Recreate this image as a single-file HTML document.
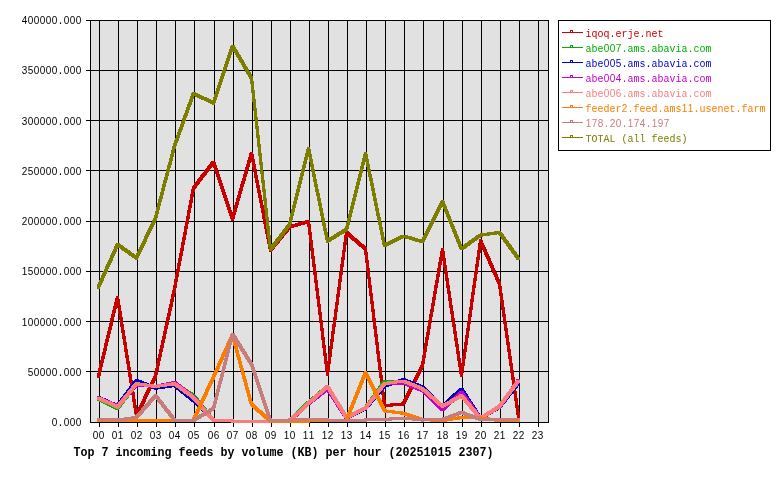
<!DOCTYPE html>
<html lang="en">
<head>
<meta charset="utf-8">
<title>Top 7 incoming feeds by volume (KB) per hour</title>
<style>
html,body{margin:0;padding:0;background:#fff;}
body{width:780px;height:480px;overflow:hidden;font-family:"Liberation Mono",monospace;}
svg{display:block;will-change:transform;}
text{white-space:pre;}
</style>
</head>
<body>
<svg width="780" height="480" viewBox="0 0 780 480">
<rect width="780" height="480" fill="#fff"/>
<rect x="90" y="20" width="459" height="403" fill="#e1e1e1" shape-rendering="crispEdges"/>
<path fill="#000" shape-rendering="crispEdges" d="M90 422h459v1h-459zM86 371h463v1h-463zM86 321h463v1h-463zM86 271h463v1h-463zM86 221h463v1h-463zM86 170h463v1h-463zM86 120h463v1h-463zM86 70h463v1h-463zM86 20h463v1h-463zM99 20h1v407h-1zM118 20h1v407h-1zM137 20h1v407h-1zM156 20h1v407h-1zM175 20h1v407h-1zM194 20h1v407h-1zM214 20h1v407h-1zM233 20h1v407h-1zM252 20h1v407h-1zM271 20h1v407h-1zM290 20h1v407h-1zM309 20h1v407h-1zM328 20h1v407h-1zM347 20h1v407h-1zM366 20h1v407h-1zM385 20h1v407h-1zM404 20h1v407h-1zM423 20h1v407h-1zM443 20h1v407h-1zM462 20h1v407h-1zM481 20h1v407h-1zM500 20h1v407h-1zM519 20h1v407h-1zM538 20h1v407h-1zM90 20h1v403h-1zM548 20h1v403h-1z"/>
<g shape-rendering="crispEdges">
<path fill="#c80000" d="M97 374.7 116 295.5 119 295.5 119 298.5 100 377.7 97 377.7zM116 295.5 119 295.5 138 414.3 138 417.3 135 417.3 116 298.5zM135 414.3 154 374.5 157 374.5 157 377.5 138 417.3 135 417.3zM154 374.5 173 287.5 176 287.5 176 290.5 157 377.5 154 377.5zM173 287.5 192 186.5 195 186.5 195 189.5 176 290.5 173 290.5zM192 186.5 212 160.5 215 160.5 215 163.5 195 189.5 192 189.5zM212 160.5 215 160.5 234 217.5 234 220.5 231 220.5 212 163.5zM231 217.5 250 151.5 253 151.5 253 154.5 234 220.5 231 220.5zM250 151.5 253 151.5 272 248.8 272 251.8 269 251.8 250 154.5zM269 248.8 288 225.5 291 225.5 291 228.5 272 251.8 269 251.8zM288 225.5 307 220 310 220 310 223 291 228.5 288 228.5zM307 220 310 220 329 372.5 329 375.5 326 375.5 307 223zM326 372.5 345 231 348 231 348 234 329 375.5 326 375.5zM345 231 348 231 367 247.5 367 250.5 364 250.5 345 234zM364 247.5 367 247.5 386 404.1 386 407.1 383 407.1 364 250.5zM383 404.1 402 402.4 405 402.4 405 405.4 386 407.1 383 407.1zM402 402.4 421 363.5 424 363.5 424 366.5 405 405.4 402 405.4zM421 363.5 441 248 444 248 444 251 424 366.5 421 366.5zM441 248 444 248 463 374 463 377 460 377 441 251zM460 374 479 239.2 482 239.2 482 242.2 463 377 460 377zM479 239.2 482 239.2 501 282.25 501 285.25 498 285.25 479 242.2zM498 282.25 501 282.25 520 415 520 418 517 418 498 285.25z"/>
<path fill="#00af00" d="M97 397.7 100 397.7 119 406.8 119 409.8 116 409.8 97 400.7zM116 406.8 135 382.5 138 382.5 138 385.5 119 409.8 116 409.8zM135 382.5 138 382.5 157 385 157 388 154 388 135 385.5zM154 385 173 382.2 176 382.2 176 385.2 157 388 154 388zM173 382.2 176 382.2 195 394 195 397 192 397 173 385.2zM192 394 195 394 215 419 215 422 212 422 192 397zM212 419 215 419 234 419.5 234 422.5 231 422.5 212 422zM231 419.5 253 419.5 253 422.5 231 422.5zM250 419.5 272 419.5 272 422.5 250 422.5zM269 419.5 291 419.5 291 422.5 269 422.5zM288 419.5 307 401 310 401 310 404 291 422.5 288 422.5zM307 401 326 385 329 385 329 388 310 404 307 404zM326 385 329 385 348 416.5 348 419.5 345 419.5 326 388zM345 416.5 364 406.5 367 406.5 367 409.5 348 419.5 345 419.5zM364 406.5 383 380 386 380 386 383 367 409.5 364 409.5zM383 380 402 379.7 405 379.7 405 382.7 386 383 383 383zM402 379.7 405 379.7 424 387.5 424 390.5 421 390.5 402 382.7zM421 387.5 424 387.5 444 405 444 408 441 408 421 390.5zM441 405 460 394.2 463 394.2 463 397.2 444 408 441 408zM460 394.2 463 394.2 482 417 482 420 479 420 460 397.2zM479 417 498 405.5 501 405.5 501 408.5 482 420 479 420zM498 405.5 517 381 520 381 520 384 501 408.5 498 408.5z"/>
<path fill="#0000c8" d="M97 396 100 396 119 404.5 119 407.5 116 407.5 97 399zM116 404.5 135 379 138 379 138 382 119 407.5 116 407.5zM135 379 138 379 157 386.7 157 389.7 154 389.7 135 382zM154 386.7 173 383.9 176 383.9 176 386.9 157 389.7 154 389.7zM173 383.9 176 383.9 195 399 195 402 192 402 173 386.9zM192 399 195 399 215 419 215 422 212 422 192 402zM212 419 215 419 234 419.5 234 422.5 231 422.5 212 422zM231 419.5 253 419.5 253 422.5 231 422.5zM250 419.5 272 419.5 272 422.5 250 422.5zM269 419.5 291 419.5 291 422.5 269 422.5zM288 419.5 307 401.7 310 401.7 310 404.7 291 422.5 288 422.5zM307 401.7 326 385.5 329 385.5 329 388.5 310 404.7 307 404.7zM326 385.5 329 385.5 348 416.5 348 419.5 345 419.5 326 388.5zM345 416.5 364 407 367 407 367 410 348 419.5 345 419.5zM364 407 383 384.5 386 384.5 386 387.5 367 410 364 410zM383 384.5 402 378.2 405 378.2 405 381.2 386 387.5 383 387.5zM402 378.2 405 378.2 424 385.5 424 388.5 421 388.5 402 381.2zM421 385.5 424 385.5 444 405 444 408 441 408 421 388.5zM441 405 460 387.5 463 387.5 463 390.5 444 408 441 408zM460 387.5 463 387.5 482 417 482 420 479 420 460 390.5zM479 417 498 405.5 501 405.5 501 408.5 482 420 479 420zM498 405.5 517 381.5 520 381.5 520 384.5 501 408.5 498 408.5z"/>
<path fill="#c800c8" d="M97 396.3 100 396.3 119 404.5 119 407.5 116 407.5 97 399.3zM116 404.5 135 383.5 138 383.5 138 386.5 119 407.5 116 407.5zM135 383.5 138 383.5 157 385 157 388 154 388 135 386.5zM154 385 173 381 176 381 176 384 157 388 154 388zM173 381 176 381 195 395.5 195 398.5 192 398.5 173 384zM192 395.5 195 395.5 215 419 215 422 212 422 192 398.5zM212 419 215 419 234 419.5 234 422.5 231 422.5 212 422zM231 419.5 253 419.5 253 422.5 231 422.5zM250 419.5 272 419.5 272 422.5 250 422.5zM269 419.5 291 419.5 291 422.5 269 422.5zM288 419.5 307 402 310 402 310 405 291 422.5 288 422.5zM307 402 326 387.5 329 387.5 329 390.5 310 405 307 405zM326 387.5 329 387.5 348 416.5 348 419.5 345 419.5 326 390.5zM345 416.5 364 406.5 367 406.5 367 409.5 348 419.5 345 419.5zM364 406.5 383 382 386 382 386 385 367 409.5 364 409.5zM383 382 402 381.5 405 381.5 405 384.5 386 385 383 385zM402 381.5 405 381.5 424 389 424 392 421 392 402 384.5zM421 389 424 389 444 408 444 411 441 411 421 392zM441 408 460 390.7 463 390.7 463 393.7 444 411 441 411zM460 390.7 463 390.7 482 417 482 420 479 420 460 393.7zM479 417 498 405.3 501 405.3 501 408.3 482 420 479 420zM498 405.3 517 378.8 520 378.8 520 381.8 501 408.3 498 408.3z"/>
<path fill="#fa7d7d" d="M97 396.5 100 396.5 119 405.5 119 408.5 116 408.5 97 399.5zM116 405.5 135 382.2 138 382.2 138 385.2 119 408.5 116 408.5zM135 382.2 138 382.2 157 385 157 388 154 388 135 385.2zM154 385 173 382.2 176 382.2 176 385.2 157 388 154 388zM173 382.2 176 382.2 195 396 195 399 192 399 173 385.2zM192 396 195 396 215 419 215 422 212 422 192 399zM212 419 215 419 234 419.5 234 422.5 231 422.5 212 422zM231 419.5 253 419.5 253 422.5 231 422.5zM250 419.5 272 419.5 272 422.5 250 422.5zM269 419.5 291 419.5 291 422.5 269 422.5zM288 419.5 307 401.7 310 401.7 310 404.7 291 422.5 288 422.5zM307 401.7 326 385 329 385 329 388 310 404.7 307 404.7zM326 385 329 385 348 416 348 419 345 419 326 388zM345 416 364 406.5 367 406.5 367 409.5 348 419 345 419zM364 406.5 383 382 386 382 386 385 367 409.5 364 409.5zM383 382 402 379.5 405 379.5 405 382.5 386 385 383 385zM402 379.5 405 379.5 424 387.2 424 390.2 421 390.2 402 382.5zM421 387.2 424 387.2 444 404.7 444 407.7 441 407.7 421 390.2zM441 404.7 460 394.2 463 394.2 463 397.2 444 407.7 441 407.7zM460 394.2 463 394.2 482 417 482 420 479 420 460 397.2zM479 417 498 404.7 501 404.7 501 407.7 482 420 479 420zM498 404.7 517 379.5 520 379.5 520 382.5 501 407.7 498 407.7z"/>
<path fill="#fa7d00" d="M97 419 119 419 119 422 97 422zM116 419 138 419 138 422 116 422zM135 419 154 418.5 157 418.5 157 421.5 138 422 135 422zM154 418.5 157 418.5 176 419 176 422 173 422 154 421.5zM173 419 192 418.5 195 418.5 195 421.5 176 422 173 422zM192 418.5 212 375.5 215 375.5 215 378.5 195 421.5 192 421.5zM212 375.5 231 333.5 234 333.5 234 336.5 215 378.5 212 378.5zM231 333.5 234 333.5 253 403 253 406 250 406 231 336.5zM250 403 253 403 272 419.5 272 422.5 269 422.5 250 406zM269 419.5 291 419.5 291 422.5 269 422.5zM288 419.5 310 419.5 310 422.5 288 422.5zM307 419.5 326 419 329 419 329 422 310 422.5 307 422.5zM326 419 345 418.5 348 418.5 348 421.5 329 422 326 422zM345 418.5 364 371.2 367 371.2 367 374.2 348 421.5 345 421.5zM364 371.2 367 371.2 386 409.4 386 412.4 383 412.4 364 374.2zM383 409.4 386 409.4 405 411.7 405 414.7 402 414.7 383 412.4zM402 411.7 405 411.7 424 418.1 424 421.1 421 421.1 402 414.7zM421 418.1 424 418.1 444 419 444 422 441 422 421 421.1zM441 419 460 416 463 416 463 419 444 422 441 422zM460 416 463 416 482 416.5 482 419.5 479 419.5 460 419zM479 416.5 482 416.5 501 419 501 422 498 422 479 419.5zM498 419 520 419 520 422 498 422z"/>
<path fill="#c87d7d" d="M97 418 100 418 119 418.5 119 421.5 116 421.5 97 421zM116 418.5 135 416 138 416 138 419 119 421.5 116 421.5zM135 416 154 394 157 394 157 397 138 419 135 419zM154 394 157 394 176 418.5 176 421.5 173 421.5 154 397zM173 418.5 176 418.5 195 419 195 422 192 422 173 421.5zM192 419 212 407 215 407 215 410 195 422 192 422zM212 407 231 332.5 234 332.5 234 335.5 215 410 212 410zM231 332.5 234 332.5 253 362.9 253 365.9 250 365.9 231 335.5zM250 362.9 253 362.9 272 419 272 422 269 422 250 365.9zM269 419 288 418.5 291 418.5 291 421.5 272 422 269 422zM288 418.5 307 418 310 418 310 421 291 421.5 288 421.5zM307 418 310 418 329 418.5 329 421.5 326 421.5 307 421zM326 418.5 329 418.5 348 419 348 422 345 422 326 421.5zM345 419 364 418.5 367 418.5 367 421.5 348 422 345 422zM364 418.5 383 418 386 418 386 421 367 421.5 364 421.5zM383 418 402 416.5 405 416.5 405 419.5 386 421 383 421zM402 416.5 405 416.5 424 418.5 424 421.5 421 421.5 402 419.5zM421 418.5 441 418 444 418 444 421 424 421.5 421 421.5zM441 418 460 410.9 463 410.9 463 413.9 444 421 441 421zM460 410.9 463 410.9 482 418 482 421 479 421 460 413.9zM479 418 482 418 501 418.5 501 421.5 498 421.5 479 421zM498 418.5 517 417.9 520 417.9 520 420.9 501 421.5 498 421.5z"/>
<path fill="#7d7d00" d="M97 285.5 116 243 119 243 119 246 100 288.5 97 288.5zM116 243 119 243 138 256.5 138 259.5 135 259.5 116 246zM135 256.5 154 216.5 157 216.5 157 219.5 138 259.5 135 259.5zM154 216.5 173 144.5 176 144.5 176 147.5 157 219.5 154 219.5zM173 144.5 192 92 195 92 195 95 176 147.5 173 147.5zM192 92 195 92 215 101.5 215 104.5 212 104.5 192 95zM212 101.5 231 44.5 234 44.5 234 47.5 215 104.5 212 104.5zM231 44.5 234 44.5 253 76.5 253 79.5 250 79.5 231 47.5zM250 76.5 253 76.5 272 248 272 251 269 251 250 79.5zM269 248 288 223.1 291 223.1 291 226.1 272 251 269 251zM288 223.1 307 147 310 147 310 150 291 226.1 288 226.1zM307 147 310 147 329 239.7 329 242.7 326 242.7 307 150zM326 239.7 345 227.7 348 227.7 348 230.7 329 242.7 326 242.7zM345 227.7 364 151.7 367 151.7 367 154.7 348 230.7 345 230.7zM364 151.7 367 151.7 386 244.1 386 247.1 383 247.1 364 154.7zM383 244.1 402 234.5 405 234.5 405 237.5 386 247.1 383 247.1zM402 234.5 405 234.5 424 240.2 424 243.2 421 243.2 402 237.5zM421 240.2 441 200.2 444 200.2 444 203.2 424 243.2 421 243.2zM441 200.2 444 200.2 463 247.3 463 250.3 460 250.3 441 203.2zM460 247.3 479 233.7 482 233.7 482 236.7 463 250.3 460 250.3zM479 233.7 498 231 501 231 501 234 482 236.7 479 236.7zM498 231 501 231 520 257.25 520 260.25 517 260.25 498 234z"/>
</g>
<g opacity="0.999" font-family="'Liberation Mono', monospace" font-size="10px" fill="#000">
<text text-anchor="middle" x="54.5 60.5 66.5 72.5 78.5" transform="translate(0 426) scale(1 1.16)"><tspan font-family="'Liberation Sans', sans-serif">0</tspan>.<tspan font-family="'Liberation Sans', sans-serif">000</tspan></text>
<text text-anchor="middle" x="30.5 36.5 42.5 48.5 54.5 60.5 66.5 72.5 78.5" transform="translate(0 376) scale(1 1.16)"><tspan font-family="'Liberation Sans', sans-serif">50000</tspan>.<tspan font-family="'Liberation Sans', sans-serif">000</tspan></text>
<text text-anchor="middle" x="24.5 30.5 36.5 42.5 48.5 54.5 60.5 66.5 72.5 78.5" transform="translate(0 326) scale(1 1.16)"><tspan font-family="'Liberation Sans', sans-serif">100000</tspan>.<tspan font-family="'Liberation Sans', sans-serif">000</tspan></text>
<text text-anchor="middle" x="24.5 30.5 36.5 42.5 48.5 54.5 60.5 66.5 72.5 78.5" transform="translate(0 275) scale(1 1.16)"><tspan font-family="'Liberation Sans', sans-serif">150000</tspan>.<tspan font-family="'Liberation Sans', sans-serif">000</tspan></text>
<text text-anchor="middle" x="24.5 30.5 36.5 42.5 48.5 54.5 60.5 66.5 72.5 78.5" transform="translate(0 225) scale(1 1.16)"><tspan font-family="'Liberation Sans', sans-serif">200000</tspan>.<tspan font-family="'Liberation Sans', sans-serif">000</tspan></text>
<text text-anchor="middle" x="24.5 30.5 36.5 42.5 48.5 54.5 60.5 66.5 72.5 78.5" transform="translate(0 175) scale(1 1.16)"><tspan font-family="'Liberation Sans', sans-serif">250000</tspan>.<tspan font-family="'Liberation Sans', sans-serif">000</tspan></text>
<text text-anchor="middle" x="24.5 30.5 36.5 42.5 48.5 54.5 60.5 66.5 72.5 78.5" transform="translate(0 125) scale(1 1.16)"><tspan font-family="'Liberation Sans', sans-serif">300000</tspan>.<tspan font-family="'Liberation Sans', sans-serif">000</tspan></text>
<text text-anchor="middle" x="24.5 30.5 36.5 42.5 48.5 54.5 60.5 66.5 72.5 78.5" transform="translate(0 74) scale(1 1.16)"><tspan font-family="'Liberation Sans', sans-serif">350000</tspan>.<tspan font-family="'Liberation Sans', sans-serif">000</tspan></text>
<text text-anchor="middle" x="24.5 30.5 36.5 42.5 48.5 54.5 60.5 66.5 72.5 78.5" transform="translate(0 24) scale(1 1.16)"><tspan font-family="'Liberation Sans', sans-serif">400000</tspan>.<tspan font-family="'Liberation Sans', sans-serif">000</tspan></text>
<text text-anchor="middle" x="95.5 101.5" transform="translate(0 439) scale(1 1.16)"><tspan font-family="'Liberation Sans', sans-serif">00</tspan></text>
<text text-anchor="middle" x="114.5 120.5" transform="translate(0 439) scale(1 1.16)"><tspan font-family="'Liberation Sans', sans-serif">01</tspan></text>
<text text-anchor="middle" x="133.5 139.5" transform="translate(0 439) scale(1 1.16)"><tspan font-family="'Liberation Sans', sans-serif">02</tspan></text>
<text text-anchor="middle" x="152.5 158.5" transform="translate(0 439) scale(1 1.16)"><tspan font-family="'Liberation Sans', sans-serif">03</tspan></text>
<text text-anchor="middle" x="171.5 177.5" transform="translate(0 439) scale(1 1.16)"><tspan font-family="'Liberation Sans', sans-serif">04</tspan></text>
<text text-anchor="middle" x="190.5 196.5" transform="translate(0 439) scale(1 1.16)"><tspan font-family="'Liberation Sans', sans-serif">05</tspan></text>
<text text-anchor="middle" x="210.5 216.5" transform="translate(0 439) scale(1 1.16)"><tspan font-family="'Liberation Sans', sans-serif">06</tspan></text>
<text text-anchor="middle" x="229.5 235.5" transform="translate(0 439) scale(1 1.16)"><tspan font-family="'Liberation Sans', sans-serif">07</tspan></text>
<text text-anchor="middle" x="248.5 254.5" transform="translate(0 439) scale(1 1.16)"><tspan font-family="'Liberation Sans', sans-serif">08</tspan></text>
<text text-anchor="middle" x="267.5 273.5" transform="translate(0 439) scale(1 1.16)"><tspan font-family="'Liberation Sans', sans-serif">09</tspan></text>
<text text-anchor="middle" x="286.5 292.5" transform="translate(0 439) scale(1 1.16)"><tspan font-family="'Liberation Sans', sans-serif">10</tspan></text>
<text text-anchor="middle" x="305.5 311.5" transform="translate(0 439) scale(1 1.16)"><tspan font-family="'Liberation Sans', sans-serif">11</tspan></text>
<text text-anchor="middle" x="324.5 330.5" transform="translate(0 439) scale(1 1.16)"><tspan font-family="'Liberation Sans', sans-serif">12</tspan></text>
<text text-anchor="middle" x="343.5 349.5" transform="translate(0 439) scale(1 1.16)"><tspan font-family="'Liberation Sans', sans-serif">13</tspan></text>
<text text-anchor="middle" x="362.5 368.5" transform="translate(0 439) scale(1 1.16)"><tspan font-family="'Liberation Sans', sans-serif">14</tspan></text>
<text text-anchor="middle" x="381.5 387.5" transform="translate(0 439) scale(1 1.16)"><tspan font-family="'Liberation Sans', sans-serif">15</tspan></text>
<text text-anchor="middle" x="400.5 406.5" transform="translate(0 439) scale(1 1.16)"><tspan font-family="'Liberation Sans', sans-serif">16</tspan></text>
<text text-anchor="middle" x="419.5 425.5" transform="translate(0 439) scale(1 1.16)"><tspan font-family="'Liberation Sans', sans-serif">17</tspan></text>
<text text-anchor="middle" x="439.5 445.5" transform="translate(0 439) scale(1 1.16)"><tspan font-family="'Liberation Sans', sans-serif">18</tspan></text>
<text text-anchor="middle" x="458.5 464.5" transform="translate(0 439) scale(1 1.16)"><tspan font-family="'Liberation Sans', sans-serif">19</tspan></text>
<text text-anchor="middle" x="477.5 483.5" transform="translate(0 439) scale(1 1.16)"><tspan font-family="'Liberation Sans', sans-serif">20</tspan></text>
<text text-anchor="middle" x="496.5 502.5" transform="translate(0 439) scale(1 1.16)"><tspan font-family="'Liberation Sans', sans-serif">21</tspan></text>
<text text-anchor="middle" x="515.5 521.5" transform="translate(0 439) scale(1 1.16)"><tspan font-family="'Liberation Sans', sans-serif">22</tspan></text>
<text text-anchor="middle" x="534.5 540.5" transform="translate(0 439) scale(1 1.16)"><tspan font-family="'Liberation Sans', sans-serif">23</tspan></text>
</g>
<g opacity="0.999" font-family="'Liberation Mono', monospace" font-weight="bold" font-size="11.667px" fill="#000">
<text text-anchor="middle" x="77 84 91 98 105 112 119 126 133 140 147 154 161 168 175 182 189 196 203 210 217 224 231 238 245 252 259 266 273 280 287 294 301 308 315 322 329 336 343 350 357 364 371 378 385 392 399 406 413 420 427 434 441 448 455 462 469 476 483 490" transform="translate(0 456) scale(1 1.04)">Top 7 incoming feeds by volume (KB) per hour (20251015 2307)</text>
</g>
<path fill="#000" shape-rendering="crispEdges" d="M558 20h213v131h-213zM559 21v129h211v-129z"/>
<g opacity="0.999" font-family="'Liberation Mono', monospace" font-size="10px">
<path fill="#c80000" shape-rendering="crispEdges" d="M562 32h21v1h-21zM570 30h3v2h-3zM571 31v1h1v-1z"/>
<text text-anchor="middle" x="588.5 594.5 600.5 606.5 612.5 618.5 624.5 630.5 636.5 642.5 648.5 654.5 660.5" transform="translate(0 37) scale(1 1.16)" fill="#c80000">iqoq.erje.net</text>
<path fill="#00af00" shape-rendering="crispEdges" d="M562 47h21v1h-21zM570 45h3v2h-3zM571 46v1h1v-1z"/>
<text text-anchor="middle" x="588.5 594.5 600.5 606.5 612.5 618.5 624.5 630.5 636.5 642.5 648.5 654.5 660.5 666.5 672.5 678.5 684.5 690.5 696.5 702.5 708.5" transform="translate(0 52) scale(1 1.16)" fill="#00af00">abe<tspan font-family="'Liberation Sans', sans-serif">007</tspan>.ams.abavia.com</text>
<path fill="#0000c8" shape-rendering="crispEdges" d="M562 62h21v1h-21zM570 60h3v2h-3zM571 61v1h1v-1z"/>
<text text-anchor="middle" x="588.5 594.5 600.5 606.5 612.5 618.5 624.5 630.5 636.5 642.5 648.5 654.5 660.5 666.5 672.5 678.5 684.5 690.5 696.5 702.5 708.5" transform="translate(0 67) scale(1 1.16)" fill="#0000c8">abe<tspan font-family="'Liberation Sans', sans-serif">005</tspan>.ams.abavia.com</text>
<path fill="#c800c8" shape-rendering="crispEdges" d="M562 77h21v1h-21zM570 75h3v2h-3zM571 76v1h1v-1z"/>
<text text-anchor="middle" x="588.5 594.5 600.5 606.5 612.5 618.5 624.5 630.5 636.5 642.5 648.5 654.5 660.5 666.5 672.5 678.5 684.5 690.5 696.5 702.5 708.5" transform="translate(0 82) scale(1 1.16)" fill="#c800c8">abe<tspan font-family="'Liberation Sans', sans-serif">004</tspan>.ams.abavia.com</text>
<path fill="#fa7d7d" shape-rendering="crispEdges" d="M562 92h21v1h-21zM570 90h3v2h-3zM571 91v1h1v-1z"/>
<text text-anchor="middle" x="588.5 594.5 600.5 606.5 612.5 618.5 624.5 630.5 636.5 642.5 648.5 654.5 660.5 666.5 672.5 678.5 684.5 690.5 696.5 702.5 708.5" transform="translate(0 97) scale(1 1.16)" fill="#fa7d7d">abe<tspan font-family="'Liberation Sans', sans-serif">006</tspan>.ams.abavia.com</text>
<path fill="#fa7d00" shape-rendering="crispEdges" d="M562 107h21v1h-21zM570 105h3v2h-3zM571 106v1h1v-1z"/>
<text text-anchor="middle" x="588.5 594.5 600.5 606.5 612.5 618.5 624.5 630.5 636.5 642.5 648.5 654.5 660.5 666.5 672.5 678.5 684.5 690.5 696.5 702.5 708.5 714.5 720.5 726.5 732.5 738.5 744.5 750.5 756.5 762.5" transform="translate(0 112) scale(1 1.16)" fill="#fa7d00">feeder<tspan font-family="'Liberation Sans', sans-serif">2</tspan>.feed.ams<tspan font-family="'Liberation Sans', sans-serif">11</tspan>.usenet.farm</text>
<path fill="#c87d7d" shape-rendering="crispEdges" d="M562 122h21v1h-21zM570 120h3v2h-3zM571 121v1h1v-1z"/>
<text text-anchor="middle" x="588.5 594.5 600.5 606.5 612.5 618.5 624.5 630.5 636.5 642.5 648.5 654.5 660.5 666.5" transform="translate(0 127) scale(1 1.16)" fill="#c87d7d"><tspan font-family="'Liberation Sans', sans-serif">178</tspan>.<tspan font-family="'Liberation Sans', sans-serif">20</tspan>.<tspan font-family="'Liberation Sans', sans-serif">174</tspan>.<tspan font-family="'Liberation Sans', sans-serif">197</tspan></text>
<path fill="#7d7d00" shape-rendering="crispEdges" d="M562 137h21v1h-21zM570 135h3v2h-3zM571 136v1h1v-1z"/>
<text text-anchor="middle" x="588.5 594.5 600.5 606.5 612.5 618.5 624.5 630.5 636.5 642.5 648.5 654.5 660.5 666.5 672.5 678.5 684.5" transform="translate(0 142) scale(1 1.16)" fill="#7d7d00">TOTAL (all feeds)</text>
</g>
</svg>
</body>
</html>
